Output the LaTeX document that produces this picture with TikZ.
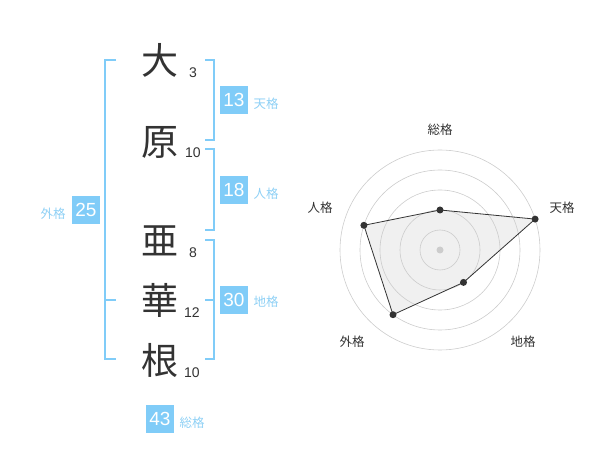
\documentclass[tikz,border=0pt]{standalone}
\usepackage{fontspec}
\setmainfont{Liberation Sans}
\newfontfamily\jpfont{Noto Sans CJK JP}
\definecolor{kakublue}{HTML}{80CCF8}
\definecolor{kakutext}{HTML}{8ED0F5}
\definecolor{inkgrey}{HTML}{333333}
\begin{document}
\begin{tikzpicture}[x=1pt,y=-1pt,
    kanji/.style={font=\jpfont\fontsize{37}{37}\selectfont, text=inkgrey, inner sep=0},
    strokes/.style={font=\fontsize{14}{14}\selectfont, text=inkgrey, inner sep=0},
    kakubox/.style={fill=kakublue, text=white, minimum size=28pt, inner sep=0,
        font=\fontsize{19}{19}\selectfont},
    kakulabel/.style={text=kakutext, font=\jpfont\fontsize{12.5}{12.5}\selectfont, inner sep=0},
    bracket/.style={draw=kakublue, line width=2pt},
    ring/.style={draw=black!20, line width=0.6pt},
    dot/.style={circle, fill=inkgrey, inner sep=0, minimum size=7pt},
    axislabel/.style={text=inkgrey, font=\jpfont\fontsize{12.5}{12.5}\selectfont, inner sep=0}]
    \useasboundingbox (0,0) rectangle (600,470);
    % name
    \node[kanji] (k1) at (160,60) {大};
    \node[kanji] (k2) at (160,142) {原};
    \node[kanji] (k3) at (160,241) {亜};
    \node[kanji] (k4) at (160,300) {華};
    \node[kanji] (k5) at (160,360) {根};
    \node[strokes] (s1) at (193,73) {3};
    \node[strokes] (s2) at (193,153) {10};
    \node[strokes] (s3) at (193,253) {8};
    \node[strokes] (s4) at (192,313) {12};
    \node[strokes] (s5) at (192,373) {10};
    % brackets
    \draw[bracket] (116,60) -- (105,60) -- (105,359) -- (116,359);
    \draw[bracket] (105,300) -- (116,300);
    \draw[bracket] (205,60) -- (214,60) -- (214,140) -- (205,140);
    \draw[bracket] (205,149) -- (214,149) -- (214,230) -- (205,230);
    \draw[bracket] (205,240) -- (214,240) -- (214,359) -- (205,359);
    \draw[bracket] (205,300) -- (214,300);
    % kaku
    \node[kakubox] (ten) at (234,100) {13};
    \node[kakulabel] at (266,104) {天格};
    \node[kakubox] (jin) at (234,190) {18};
    \node[kakulabel] at (266,194) {人格};
    \node[kakubox] (chi) at (234,300) {30};
    \node[kakulabel] at (266,302) {地格};
    \node[kakubox] (gai) at (86,210) {25};
    \node[kakulabel] at (53,214) {外格};
    \node[kakubox] (sou) at (160,419) {43};
    \node[kakulabel] at (192,423) {総格};
    % radar
    \coordinate (c) at (440,250);
    \coordinate (rsou) at (440,210);
    \coordinate (rten) at (535.1,219.1);
    \coordinate (rchi) at (463.5,282.4);
    \coordinate (rgai) at (393,314.7);
    \coordinate (rjin) at (363.9,225.3);
    \fill[black!6] (rsou) -- (rten) -- (rchi) -- (rgai) -- (rjin) -- cycle;
    \foreach \r in {20,40,...,100}
        \draw[ring] (c) circle[radius=\r pt];
    \fill[black!20] (c) circle[radius=3.5pt];
    \draw[inkgrey, line width=0.8pt] (rsou) -- (rten) -- (rchi) -- (rgai) -- (rjin) -- cycle;
    \foreach \p in {rsou,rten,rchi,rgai,rjin}
        \node[dot] at (\p) {};
    \node[axislabel] at (440,130) {総格};
    \node[axislabel] at (562,208) {天格};
    \node[axislabel] at (320,208) {人格};
    \node[axislabel] at (352,342) {外格};
    \node[axislabel] at (523,342) {地格};
\end{tikzpicture}
\end{document}
